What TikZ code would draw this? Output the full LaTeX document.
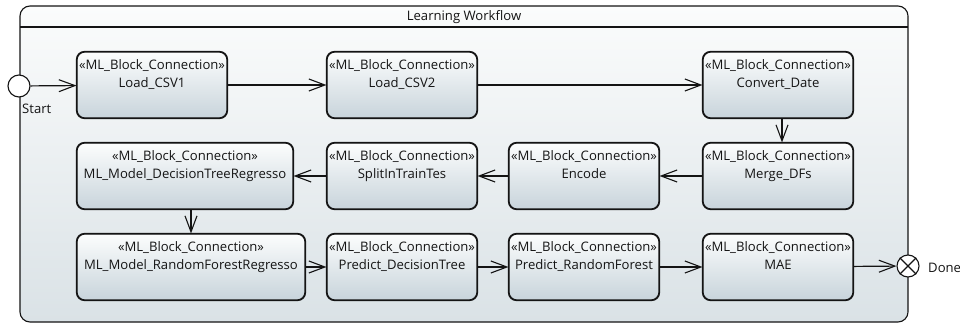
\documentclass[tikz,border=0pt]{standalone}
\usepackage{fontspec}
\setmainfont{Open Sans}
\usetikzlibrary{arrows.meta,calc}
\definecolor{boxtop}{RGB}{252,253,253}
\definecolor{boxbot}{RGB}{200,212,219}
\definecolor{frametop}{RGB}{251,252,252}
\definecolor{framebot}{RGB}{218,226,230}
\definecolor{ink}{RGB}{20,20,20}
\tikzset{
  frame/.style={draw=ink, line width=1.1pt, rounded corners=10pt,
    top color=frametop, bottom color=framebot},
  blk/.style={draw=ink, line width=1.1pt, rounded corners=8pt,
    top color=boxtop, bottom color=boxbot, minimum height=66pt, inner sep=0pt},
  txt/.style={font=\fontsize{13.1}{15}\selectfont, text=ink, inner sep=0pt, anchor=base},
  flow/.style={draw=ink, line width=1.2pt, -{Straight Barb[length=16pt, width=12pt, line width=1.1pt]}},
  pseudo/.style={circle, draw=ink, line width=1.1pt, fill=white, minimum size=22pt, inner sep=0pt},
}
% one action box: #1 name, #2 centre, #3 width, #4 action text;
% the two text lines are cut off at the box border
\newcommand{\actionbox}[4]{%
  \node[blk, minimum width=#3] (#1) at #2 {};
  \begin{scope}
    \clip ([xshift=0.6pt]#1.south west) rectangle ([xshift=-0.6pt]#1.north east);
    \node[txt] (#1-st) at ([yshift=-18pt]#1.north) {«ML\_Block\_Connection»};
    \node[txt] (#1-nm) at ([yshift=-36pt]#1.north) {#4};
  \end{scope}
  \draw[draw=ink, line width=1.1pt, rounded corners=8pt]
    (#1.south west) rectangle (#1.north east);
}
\begin{document}
\begin{tikzpicture}[x=1pt, y=-1pt]
\useasboundingbox (0,0) rectangle (960,326);
% enclosing activity frame with its title compartment
\path[frame] (20,6) rectangle (908,322);
\coordinate (tl) at (20,27);
\coordinate (tr) at (908,27);
\draw[draw=ink, line width=1.1pt] (tl) -- (tr);
\node[txt, anchor=center] (title) at (464,17) {Learning Workflow};

% first row
\actionbox{csv1}{(152,85)}{150pt}{Load\_CSV1}
\actionbox{csv2}{(402,85)}{150pt}{Load\_CSV2}
\actionbox{conv}{(778,85)}{150pt}{Convert\_Date}
% second row
\actionbox{dt}{(185,176)}{216pt}{ML\_Model\_DecisionTreeRegresso}
\actionbox{split}{(402,176)}{150pt}{SplitInTrainTes}
\actionbox{enc}{(584,176)}{150pt}{Encode}
\actionbox{merge}{(778,176)}{150pt}{Merge\_DFs}
% third row
\actionbox{rf}{(191,267)}{228pt}{ML\_Model\_RandomForestRegresso}
\actionbox{pdt}{(402,267)}{150pt}{Predict\_DecisionTree}
\actionbox{prf}{(584,267)}{150pt}{Predict\_RandomForest}
\actionbox{mae}{(778,267)}{150pt}{MAE}

% initial and final pseudo states
\node[pseudo] (start) at (19,86) {};
\node[txt, anchor=west] (startlbl) at (22,109) {Start};
\node[pseudo] (done) at (908,266) {};
\draw[draw=ink, line width=1.1pt] (done.north east) -- (done.south west)
      (done.north west) -- (done.south east);
\node[txt, anchor=west] (donelbl) at (928,268) {Done};

% control flows
\draw[flow] (start) -- (csv1);
\draw[flow] (csv1) -- (csv2);
\draw[flow] (csv2) -- (conv);
\draw[flow] ([xshift=4pt]conv.south) -- ([xshift=4pt]merge.north);
\draw[flow] (merge) -- (enc);
\draw[flow] (enc) -- (split);
\draw[flow] (split) -- (dt);
\draw[flow] (dt.south -| rf.north) -- (rf.north);
\draw[flow] (rf) -- (pdt);
\draw[flow] (pdt) -- (prf);
\draw[flow] (prf) -- (mae);
\draw[flow] (mae) -- (done);
\end{tikzpicture}
\end{document}
